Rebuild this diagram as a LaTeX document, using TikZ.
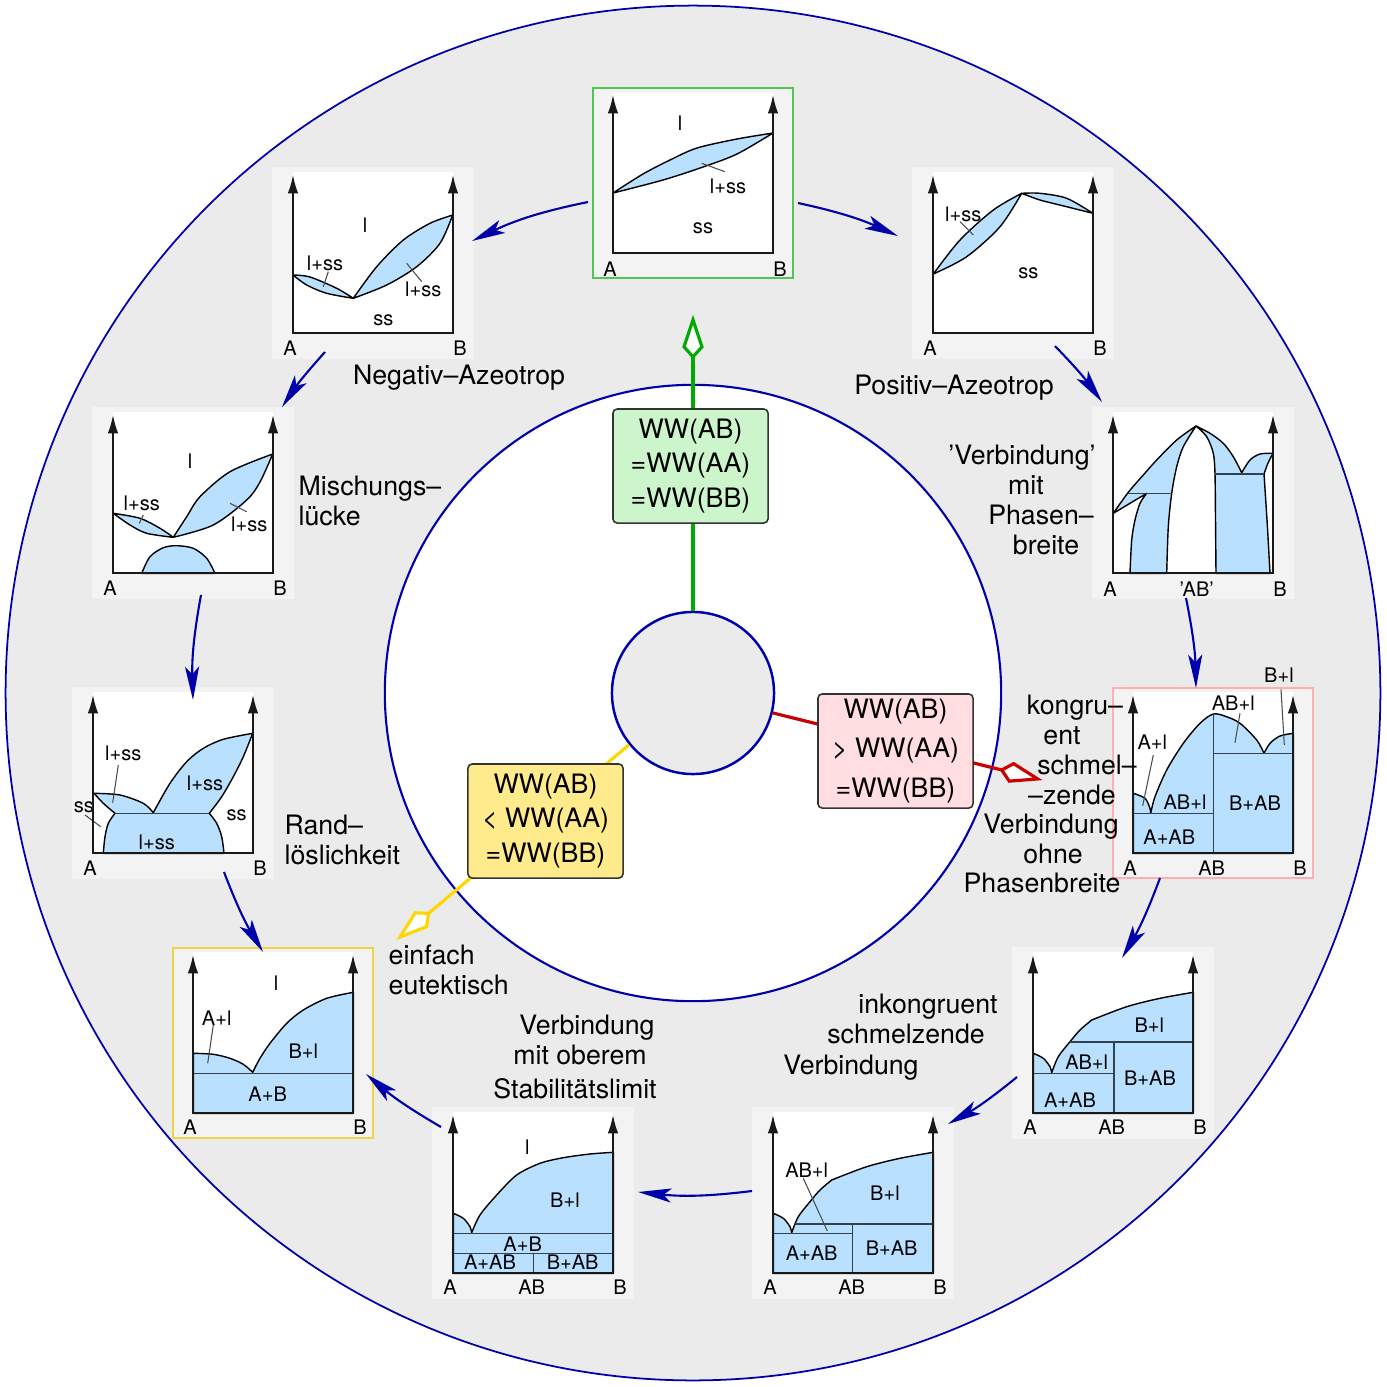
\documentclass[tikz,border=0pt]{standalone}
\usepackage{fontspec}
\setmainfont{TeX Gyre Heros}
\usetikzlibrary{arrows.meta,calc}
\definecolor{ring}{RGB}{235,235,235}
\definecolor{pnlgray}{RGB}{243,243,243}
\definecolor{phblue}{RGB}{185,225,255}
\definecolor{cblue}{RGB}{0,0,170}
\definecolor{grline}{RGB}{0,170,0}
\definecolor{rdline}{RGB}{204,0,0}
\definecolor{ylline}{RGB}{255,215,0}
\definecolor{grfill}{RGB}{204,245,204}
\definecolor{rdfill}{RGB}{255,221,225}
\definecolor{ylfill}{RGB}{255,234,140}
\definecolor{grbord}{RGB}{80,200,80}
\definecolor{rdbord}{RGB}{255,175,175}
\definecolor{ylbord}{RGB}{240,210,70}
\definecolor{hline}{RGB}{50,65,80}
\tikzset{
 big/.style={font=\fontsize{7.6}{8.5}\selectfont, inner sep=0pt, anchor=base},
 bigw/.style={big, anchor=base west},
 sm/.style={font=\fontsize{5.7}{6.5}\selectfont, inner sep=0pt},
 ph/.style={fill=phblue, draw=black, line width=0.4pt, line join=round},
 hl/.style={draw=hline, line width=0.45pt},
 lead/.style={draw=black!70, line width=0.3pt},
 axisln/.style={draw=black!90, line width=0.8pt, line join=miter, {Latex[length=5.5pt,width=3pt]}-{Latex[length=5.5pt,width=3pt]}},
 flow/.style={draw=cblue, line width=0.6pt, -{Stealth[length=9.5pt,width=4pt,inset=2.2pt]}},
 wwbox/.style={draw=black!80, line width=0.45pt, rounded corners=1.2pt, minimum width=1.55cm, minimum height=1.14cm, align=center, inner sep=0pt, font=\fontsize{7.6}{9.8}\selectfont},
 kite/.style={fill=white, line width=0.9pt, line join=miter},
 ray/.style={line width=0.9pt},
}
\newcommand{\pnlbg}[1]{\path[fill=pnlgray, draw=#1, line width=0.5pt] (0,0) rectangle (200,190); \fill[white] (20,4) rectangle (180,165);}
\newcommand{\pnlaxes}{\draw[axisln] (20,6) -- (20,165) -- (180,165) -- (180,6);}
\begin{document}
\begin{tikzpicture}[x=0.01cm,y=-0.01cm]
\useasboundingbox (0,0) rectangle (1387,1387);
% circles
\node[circle, fill=ring, draw=cblue, line width=0.5pt, minimum size=13.74cm, inner sep=0pt] (outer) at (693,693) {};
\node[circle, fill=white, draw=cblue, line width=0.6pt, minimum size=6.16cm, inner sep=0pt] (innerw) at (693,693) {};
\node[circle, fill=ring, draw=cblue, line width=0.7pt, minimum size=1.62cm, inner sep=0pt] (C) at (693,693) {};
% rays
\coordinate (gback) at ($(C.center)+(90:3.36cm)$);
\coordinate (rback) at ($(C.center)+(-14:3.18cm)$);
\coordinate (yback) at ($(C.center)+(219.8:3.44cm)$);
\draw[ray, grline] (C.90) -- (gback);
\draw[ray, rdline] (C.-14) -- (rback);
\draw[ray, ylline] (C.219.8) -- (yback);
\draw[kite, draw=grline, shift={(gback)}, rotate=90] (0,0) -- (0.10cm,0.09cm) -- (0.37cm,0) -- (0.10cm,-0.09cm) -- cycle;
\draw[kite, draw=rdline, shift={(rback)}, rotate=-14] (0,0) -- (0.10cm,0.09cm) -- (0.37cm,0) -- (0.10cm,-0.09cm) -- cycle;
\draw[kite, draw=ylline, shift={(yback)}, rotate=219.8] (0,0) -- (0.10cm,0.09cm) -- (0.37cm,0) -- (0.10cm,-0.09cm) -- cycle;
% boxes
\node[wwbox, fill=grfill] (gbox) at (690.5,466) {WW(AB)\\=WW(AA)\\=WW(BB)};
\node[wwbox, fill=rdfill, font=\fontsize{7.6}{11.3}\selectfont] (rbox) at (895.5,751) {WW(AB)\\> WW(AA)\\=WW(BB)};
\node[wwbox, fill=ylfill] (ybox) at (545.5,821) {WW(AB)\\< WW(AA)\\=WW(BB)};

% P1 ideal
\begin{scope}[shift={(593,88)}]
\pnlbg{grbord}
\filldraw[ph] plot[smooth] coordinates {(20,105) (50,86) (77,72) (104,60) (144,51) (180,45)} -- plot[smooth] coordinates {(180,45) (144,66) (110,79) (70,92) (20,105)} -- cycle;
\draw[lead] (108.7,75.3) -- (132,83.7);
\node[sm] (p1l) at (87,35) {l};
\node[sm] (p1ls) at (135,98) {l+ss};
\node[sm] (p1ss) at (110,140) {ss};
\node[sm] (p1A) at (17,181) {A};
\node[sm] (p1B) at (187,181) {B};
\pnlaxes
\end{scope}

% P2 negativ
\begin{scope}[shift={(273,168)}]
\pnlbg{pnlgray}
\filldraw[ph] plot[smooth] coordinates {(20,107) (37,109) (63.7,120.3) (80.3,130.3)} -- plot[smooth] coordinates {(80.3,130.3) (53.7,125.3) (33.7,117) (20,107)} -- cycle;
\filldraw[ph] plot[smooth] coordinates {(80.3,130.3) (103.7,98.7) (130.3,72) (157,55.3) (179.7,47)} -- plot[smooth] coordinates {(179.7,47) (167,75.3) (143.7,98.7) (113.7,117) (80.3,130.3)} -- cycle;
\draw[lead] (55.3,103.7) -- (50.3,118.7);
\draw[lead] (133.7,95.3) -- (148.7,113.7);
\node[sm] (p2l) at (92,57) {l};
\node[sm] (p2ls1) at (52,95) {l+ss};
\node[sm] (p2ls2) at (150.3,121) {l+ss};
\node[sm] (p2ss) at (110.3,152) {ss};
\node[sm] (p2A) at (17,180) {A};
\node[sm] (p2B) at (187,180) {B};
\pnlaxes
\end{scope}

% P3 positiv
\begin{scope}[shift={(913,168)}]
\pnlbg{pnlgray}
\filldraw[ph] plot[smooth] coordinates {(20.3,106) (47,72) (80.3,42) (108.7,25.3)} -- plot[smooth] coordinates {(108.7,25.3) (87,58.7) (53.7,88.7) (20.3,106)} -- cycle;
\filldraw[ph] plot[smooth] coordinates {(108.7,25.3) (127,25.3) (153.7,30.3) (180,45.3)} -- plot[smooth] coordinates {(180,45.3) (153.7,38.7) (127,32) (108.7,25.3)} -- cycle;
\draw[lead] (47,53.7) -- (60.3,67);
\node[sm] (p3ls) at (50.3,46) {l+ss};
\node[sm] (p3ss) at (115.3,105.3) {ss};
\node[sm] (p3A) at (17,180) {A};
\node[sm] (p3B) at (187,180) {B};
\pnlaxes
\end{scope}

% P4 Verbindung mit Phasenbreite
\begin{scope}[shift={(1093,408)}]
\pnlbg{pnlgray}
\filldraw[ph] plot[smooth] coordinates {(20.3,105.3) (35.3,84.3) (50.3,67) (63.7,52) (83.7,32) (103,18)} -- plot[smooth] coordinates {(103,18) (90.3,38.7) (83.7,58.7) (78.7,85.3) (75.3,118.7) (73.7,165.3)} -- (37,165.3) -- plot[smooth] coordinates {(37,165.3) (38.7,132) (42,112) (47,95.3) (53.7,85.3)} -- cycle;
\draw[hl] (35.3,85.3) -- (78.7,85.3);
\filldraw[ph] plot[smooth] coordinates {(103,18) (117,25.3) (130.3,35.3) (140.3,48.7) (148.7,64.7)} -- plot[smooth] coordinates {(148.7,64.7) (157,52) (167,46) (180,45.3)} -- plot[smooth] coordinates {(180,45.3) (175,55) (171,66)} -- plot[smooth] coordinates {(171,66) (174.3,116.7) (177,165.3)} -- (123,165.3) -- plot[smooth] coordinates {(123,165.3) (122.5,110) (122,66) (120.3,45.3) (113.7,28.7) (103,18)} -- cycle;
\draw[hl] (122,66) -- (171,66);
\node[sm] (p4A) at (17,181) {A};
\node[sm] (p4AB) at (103.7,181) {’AB’};
\node[sm] (p4B) at (187,181) {B};
\pnlaxes
\end{scope}

% P5 kongruent
\begin{scope}[shift={(1113,688)}]
\pnlbg{rdbord}
\filldraw[ph] plot[smooth] coordinates {(20.3,105.3) (32,110.3) (37,120.3) (37.7,125.3)} -- plot[smooth] coordinates {(37.7,125.3) (42,108.7) (53.7,82) (70.3,55.3) (87,35.3) (100.3,26) (113,28.5) (127,35.3) (143.7,52) (151,65.3)} -- plot[smooth] coordinates {(151,65.3) (157,55.3) (167,48) (180.3,45.3)} -- (180.3,165.3) -- (20.3,165.3) -- cycle;
\draw[hl] (100.3,26) -- (100.3,165.3);
\draw[hl] (20.3,125.3) -- (100.3,125.3);
\draw[hl] (100.3,65.3) -- (180.3,65.3);
\draw[lead] (168,1.3) -- (171.3,57);
\draw[lead] (127,25.3) -- (122,54.7);
\draw[lead] (40.3,67) -- (29.7,117.7);
\node[sm] (p5bl) at (166,-13) {B+l};
\node[sm] (p5abl1) at (120.3,15.3) {AB+l};
\node[sm] (p5al) at (39.3,53.7) {A+l};
\node[sm] (p5abl2) at (72,113.7) {AB+l};
\node[sm] (p5bab) at (142,114.7) {B+AB};
\node[sm] (p5aab) at (56.3,148.7) {A+AB};
\node[sm] (p5A) at (17,180.5) {A};
\node[sm] (p5AB) at (98.7,180.5) {AB};
\node[sm] (p5B) at (187,180.5) {B};
\pnlaxes
\end{scope}

% P6 inkongruent
\begin{scope}[shift={(1013,948)}]
\pnlbg{pnlgray}
\filldraw[ph] plot[smooth] coordinates {(20.3,105.3) (30.3,110.3) (37,118.7) (38.7,124.7)} -- plot[smooth] coordinates {(38.7,124.7) (45.3,108.7) (57,93.7) (67,82) (78.7,72)} -- plot[smooth] coordinates {(78.7,72) (113.7,58.7) (147,50.3) (180.3,44.3)} -- (180.3,165.3) -- (20.3,165.3) -- cycle;
\draw[hl] (57,93.7) -- (180.3,93.7);
\draw[hl] (20.3,125.3) -- (101,125.3);
\draw[hl] (101,93.7) -- (101,165.3);
\node[sm] (p6bl) at (136.3,77) {B+l};
\node[sm] (p6abl) at (73.7,113.7) {AB+l};
\node[sm] (p6bab) at (137,130.3) {B+AB};
\node[sm] (p6aab) at (57,152) {A+AB};
\node[sm] (p6A) at (17,179) {A};
\node[sm] (p6AB) at (98.7,179) {AB};
\node[sm] (p6B) at (187,179) {B};
\pnlaxes
\end{scope}

% P7
\begin{scope}[shift={(753,1108)}]
\pnlbg{pnlgray}
\filldraw[ph] plot[smooth] coordinates {(20.3,105.3) (30.3,110.3) (37,118.7) (38.7,124.7)} -- plot[smooth] coordinates {(38.7,124.7) (45.3,108.7) (57,93.7) (67,82) (78.7,72)} -- plot[smooth] coordinates {(78.7,72) (113.7,58.7) (147,50.3) (180.3,44.3)} -- (180.3,165.3) -- (20.3,165.3) -- cycle;
\draw[hl] (42,116) -- (180.3,116);
\draw[hl] (20.3,125.3) -- (99.7,125.3);
\draw[hl] (99.7,116) -- (99.7,165.3);
\draw[lead] (50.3,70.3) -- (74.3,123);
\node[sm] (p7abl) at (53.7,62) {AB+l};
\node[sm] (p7bl) at (132,85.3) {B+l};
\node[sm] (p7bab) at (138.7,139.7) {B+AB};
\node[sm] (p7aab) at (58.7,145.3) {A+AB};
\node[sm] (p7A) at (17,179) {A};
\node[sm] (p7AB) at (98.7,179) {AB};
\node[sm] (p7B) at (187,179) {B};
\pnlaxes
\end{scope}

% P8 oberes Stabilitaetslimit
\begin{scope}[shift={(433,1108)}]
\pnlbg{pnlgray}
\filldraw[ph] plot[smooth] coordinates {(20.3,105.3) (30.3,110.3) (37,118.7) (38.7,124.7)} -- plot[smooth] coordinates {(38.7,124.7) (47,107) (63.7,87) (83.7,67) (107,55.3) (130.3,49.7) (157,46) (180.3,44.3)} -- (180.3,165.3) -- (20.3,165.3) -- cycle;
\draw[hl] (20.3,125.3) -- (180.3,125.3);
\draw[hl] (20.3,145.3) -- (180.3,145.3);
\draw[hl] (100.3,145.3) -- (100.3,165.3);
\node[sm] (p8l) at (94.3,38.7) {l};
\node[sm] (p8bl) at (132,92) {B+l};
\node[sm] (p8ab) at (89.7,136.3) {A+B};
\node[sm] (p8aab) at (57,154.3) {A+AB};
\node[sm] (p8bab) at (139.7,154.3) {B+AB};
\node[sm] (p8A) at (17,179) {A};
\node[sm] (p8AB) at (98.7,179) {AB};
\node[sm] (p8B) at (187,179) {B};
\pnlaxes
\end{scope}

% P9 einfach eutektisch
\begin{scope}[shift={(173,948)}]
\pnlbg{ylbord}
\filldraw[ph] plot[smooth] coordinates {(20.3,105.3) (40.3,106.3) (57,110.3) (70.3,116.3) (79.7,124.3)} -- plot[smooth] coordinates {(79.7,124.3) (87,110.3) (97,95.3) (113.7,75.3) (130.3,62) (153.7,50.3) (180.3,44.3)} -- (180.3,165.3) -- (20.3,165.3) -- cycle;
\draw[hl] (20.3,125.3) -- (180.3,125.3);
\draw[lead] (40.3,77) -- (34.7,115.3);
\node[sm] (p9l) at (103,35.3) {l};
\node[sm] (p9al) at (43.7,69.7) {A+l};
\node[sm] (p9bl) at (130.3,103) {B+l};
\node[sm] (p9ab) at (94.7,146.3) {A+B};
\node[sm] (p9A) at (17,179) {A};
\node[sm] (p9B) at (187,179) {B};
\pnlaxes
\end{scope}

% P10 Randloeslichkeit
\begin{scope}[shift={(73,688)}]
\pnlbg{pnlgray}
\filldraw[ph] plot[smooth] coordinates {(21,105.3) (47,107) (70.3,115.3) (80.3,124.7)} -- plot[smooth] coordinates {(80.3,124.7) (97,95.3) (113.7,73.7) (130.3,60.3) (150.3,51.3) (179.7,45.3)} -- plot[smooth] coordinates {(179.7,45.3) (170.3,68.7) (160.3,88.7) (148.7,108.7) (136.3,125.3)} -- plot[smooth] coordinates {(136.3,125.3) (143.7,135.3) (148.7,148.7) (151,165.3)} -- (30.3,165.3) -- plot[smooth] coordinates {(30.3,165.3) (32,148.7) (35.3,135.3) (42,125.3)} -- plot[smooth] coordinates {(42,125.3) (30.3,115.3) (21,105.3)} -- cycle;
\draw[hl] (42,125.3) -- (136.3,125.3);
\draw[lead] (45.3,77) -- (39.7,114.7);
\draw[lead] (12,127) -- (27.7,138.7);
\node[sm] (p10ls1) at (50.3,65.3) {l+ss};
\node[sm] (p10ls2) at (132,95.3) {l+ss};
\node[sm] (p10ss1) at (11,119.7) {ss};
\node[sm] (p10ss2) at (163.7,127) {ss};
\node[sm] (p10ls3) at (83.7,154.3) {l+ss};
\node[sm] (p10A) at (17,180) {A};
\node[sm] (p10B) at (187,180) {B};
\pnlaxes
\end{scope}

% P11 Mischungsluecke
\begin{scope}[shift={(93,408)}]
\pnlbg{pnlgray}
\filldraw[ph] plot[smooth] coordinates {(20.3,105.3) (47,110.3) (67,120.3) (80.3,129.3)} -- plot[smooth] coordinates {(80.3,129.3) (53.7,125.3) (37,117) (20.3,105.3)} -- cycle;
\filldraw[ph] plot[smooth] coordinates {(80.3,129.3) (93.7,108.7) (107,88.7) (137,63.7) (179.7,46)} -- plot[smooth] coordinates {(179.7,46) (167,74) (153.7,92) (120.3,117) (80.3,129.3)} -- cycle;
\filldraw[ph] plot[smooth] coordinates {(48.7,165.3) (57,148.7) (70.3,139.7) (83.7,137.7) (100.3,140.3) (113.7,150.3) (122,165.3)} -- cycle;
\draw[lead] (50.3,107) -- (46.3,115.3);
\draw[lead] (137,95.3) -- (153.7,103.7);
\node[sm] (p11l) at (97,52.7) {l};
\node[sm] (p11ls1) at (48.7,95.3) {l+ss};
\node[sm] (p11ls2) at (156.3,116) {l+ss};
\node[sm] (p11A) at (17,180) {A};
\node[sm] (p11B) at (187,180) {B};
\pnlaxes
\end{scope}

% flow arrows
\coordinate (a1s) at (588,202);  \coordinate (a1e) at (472,241);
\coordinate (a2s) at (798,203);  \coordinate (a2e) at (898,236);
\coordinate (a3s) at (1055,346); \coordinate (a3e) at (1102,402);
\coordinate (a4s) at (1186,598); \coordinate (a4e) at (1196,688);
\coordinate (a5s) at (1160,878); \coordinate (a5e) at (1122,958);
\coordinate (a6s) at (1017,1077);\coordinate (a6e) at (948,1124);
\coordinate (a7s) at (752,1191); \coordinate (a7e) at (638,1192);
\coordinate (a8s) at (441,1127); \coordinate (a8e) at (366,1074);
\coordinate (a9s) at (224,872);  \coordinate (a9e) at (263,952);
\coordinate (a10s) at (201,595); \coordinate (a10e) at (193,700);
\coordinate (a11s) at (325,352); \coordinate (a11e) at (282,407);
\draw[flow] (a1s) to[bend right=7] (a1e);
\draw[flow] (a2s) to[bend left=6] (a2e);
\draw[flow] (a3s) to[bend left=4] (a3e);
\draw[flow] (a4s) to[bend left=5] (a4e);
\draw[flow] (a5s) to[bend left=5] (a5e);
\draw[flow] (a6s) to[bend left=5] (a6e);
\draw[flow] (a7s) to[bend left=6.5] (a7e);
\draw[flow] (a8s) to[bend left=5] (a8e);
\draw[flow] (a9s) to[bend right=5] (a9e);
\draw[flow] (a10s) to[bend right=6] (a10e);
\draw[flow] (a11s) to[bend right=4] (a11e);

% big labels
\node[big] (neg) at (459,384) {Negativ–Azeotrop};
\node[big] (pos) at (954,394) {Positiv–Azeotrop};
\node[big] (vb1) at (1022,464) {’Verbindung’};
\node[big] (vb2) at (1026,494) {mit};
\node[big] (vb3) at (1041,524) {Phasen–};
\node[big] (vb4) at (1046,554) {breite};
\node[bigw] (mis1) at (298,495) {Mischungs–};
\node[bigw] (mis2) at (298,525) {lücke};
\node[bigw] (rand1) at (284,834) {Rand–};
\node[bigw] (rand2) at (284,864) {löslichkeit};
\node[bigw] (einf1) at (388,964) {einfach};
\node[bigw] (einf2) at (388,994) {eutektisch};
\node[big] (vo1) at (587,1034) {Verbindung};
\node[big] (vo2) at (580,1064) {mit oberem};
\node[big] (vo3) at (575,1098) {Stabilitätslimit};
\node[big] (ink1) at (928,1013) {inkongruent};
\node[big] (ink2) at (906,1043) {schmelzende};
\node[big] (ink3) at (851,1074) {Verbindung};
\node[big] (kon1) at (1075,714) {kongru–};
\node[big] (kon2) at (1062,744) {ent};
\node[big] (kon3) at (1087,774) {schmel–};
\node[big] (kon4) at (1072,804) {–zende};
\node[big] (kon5) at (1051,833) {Verbindung};
\node[big] (kon6) at (1053,863) {ohne};
\node[big] (kon7) at (1042,892) {Phasenbreite};
\end{tikzpicture}
\end{document}
